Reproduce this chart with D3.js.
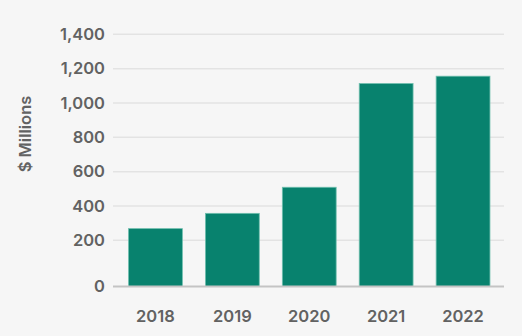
<!DOCTYPE html>
<html>
<head>
<meta charset="utf-8">
<script src="https://cdn.jsdelivr.net/npm/d3@7"></script>
<style>
  html, body { margin: 0; padding: 0; background: #f6f6f6; }
  svg { display: block; }
  text { font-family: "Inter", "Open Sans", sans-serif; font-weight: 600; fill: #626262; }
</style>
</head>
<body>
<svg id="chart" width="522" height="336"></svg>
<script>
// Annual amounts, $ millions
const years = ["2018", "2019", "2020", "2021", "2022"];
const amounts = [268, 357, 509, 1113, 1156];
const yTicks = [0, 200, 400, 600, 800, 1000, 1200, 1400];
const yTitle = "$ Millions";

const W = 522, H = 336;
const svg = d3.select("#chart");

svg.append("rect").attr("width", W).attr("height", H).attr("fill", "#f6f6f6");

const plotLeft = 113, plotRight = 504;
const baseY = 286.5, topY = 34.3;

// The zero baseline sits a little below the 200 gridline's regular spacing
const y = d3.scaleLinear()
  .domain([0, 200, 1400])
  .range([baseY, 240.3, topY]);

const x = d3.scaleBand()
  .domain(years)
  .range([117, 501.5])
  .paddingInner(0.3)
  .paddingOuter(0.15);

// gridlines (except zero)
svg.append("g")
  .selectAll("line")
  .data(yTicks.filter(d => d !== 0))
  .join("line")
  .attr("x1", plotLeft).attr("x2", plotRight)
  .attr("y1", d => y(d)).attr("y2", d => y(d))
  .attr("stroke", "#e3e3e3")
  .attr("stroke-width", 1.5);

// bars
svg.append("g")
  .selectAll("rect")
  .data(years.map((yr, i) => ({ yr, v: amounts[i] })))
  .join("rect")
  .attr("x", d => x(d.yr))
  .attr("width", x.bandwidth())
  .attr("y", d => y(d.v))
  .attr("height", d => y(0) - y(d.v))
  .attr("fill", "#08826e")
  .attr("stroke", "#6fbfae")
  .attr("stroke-width", 0.8);

// baseline
svg.append("line")
  .attr("x1", plotLeft).attr("x2", plotRight)
  .attr("y1", y(0)).attr("y2", y(0))
  .attr("stroke", "#c4c4c4")
  .attr("stroke-width", 2);

// y tick labels
svg.append("g")
  .selectAll("text")
  .data(yTicks)
  .join("text")
  .attr("x", 105)
  .attr("y", d => y(d))
  .attr("dy", "0.35em")
  .attr("text-anchor", "end")
  .attr("font-size", 16.5)
  .text(d => d3.format(",")(d));

// x tick labels
svg.append("g")
  .selectAll("text")
  .data(years)
  .join("text")
  .attr("x", d => x(d) + x.bandwidth() / 2)
  .attr("y", 321.5)
  .attr("text-anchor", "middle")
  .attr("font-size", 16.5)
  .text(d => d);

// y axis title
svg.append("text")
  .attr("transform", "translate(31,134) rotate(-90)")
  .attr("text-anchor", "middle")
  .attr("font-size", 16.5)
  .attr("font-weight", 700)
  .text(yTitle);
</script>
</body>
</html>
